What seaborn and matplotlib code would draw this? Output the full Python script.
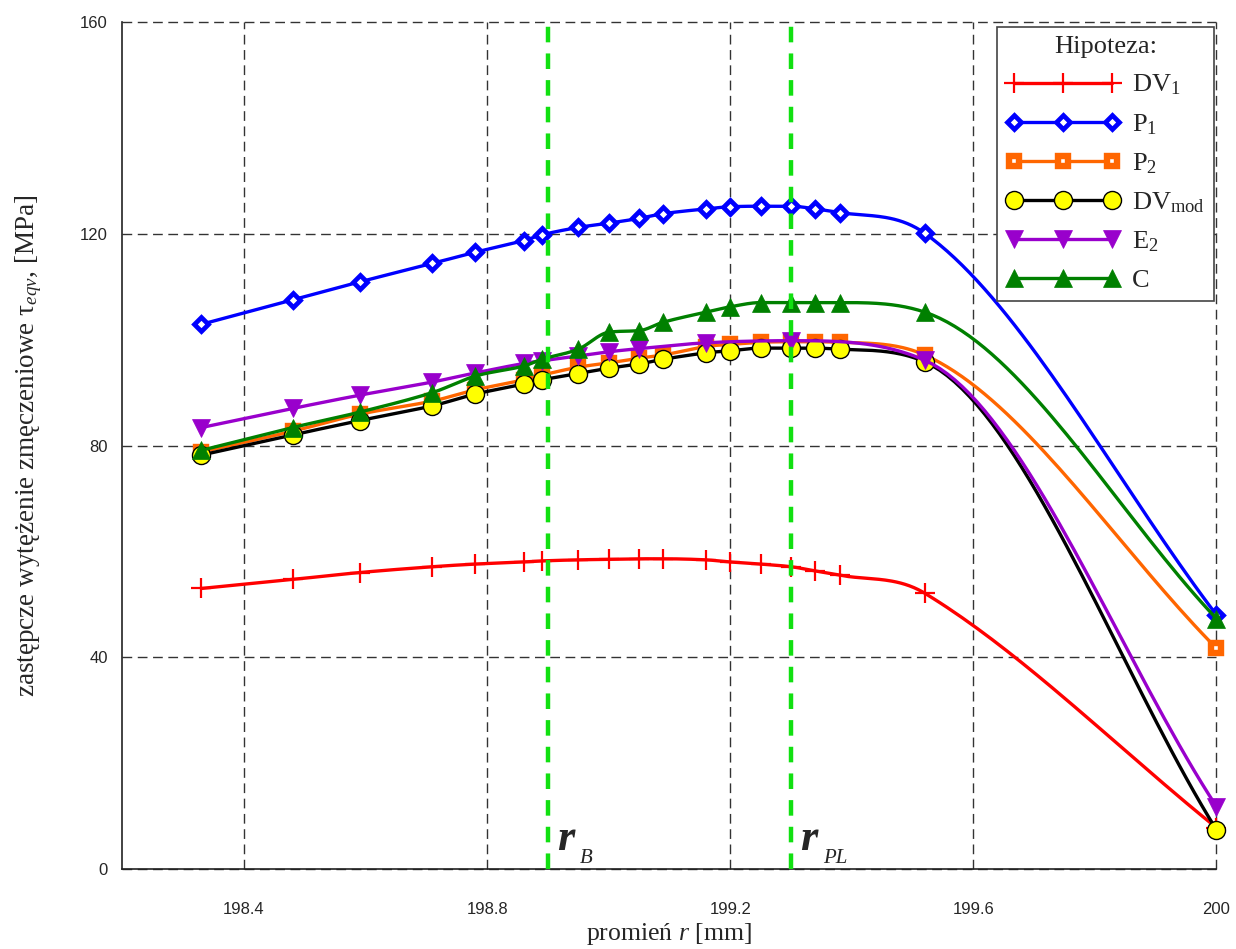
import numpy as np
import matplotlib
matplotlib.use("Agg")
import matplotlib.pyplot as plt
import seaborn as sns
from matplotlib.lines import Line2D
from matplotlib.ticker import FixedLocator, MultipleLocator, FuncFormatter

# radius positions [mm]
r_mm = [198.33, 198.48, 198.59, 198.71, 198.78, 198.86, 198.89, 198.95, 199.00,
        199.05, 199.09, 199.16, 199.20, 199.25, 199.30, 199.34, 199.38, 199.52, 200.0]
r_e2 = [198.33, 198.48, 198.59, 198.71, 198.78, 198.86, 198.89, 198.95, 199.00,
        199.05, 199.16, 199.30, 199.52, 200.0]

# equivalent fatigue stress [MPa] for each hypothesis
dv1 = [53.0, 54.7, 56.0, 57.1, 57.6, 58.0, 58.2, 58.4, 58.5, 58.6, 58.6, 58.4,
       58.0, 57.6, 57.1, 56.3, 55.5, 52.1, 7.8]
p1 = [102.9, 107.5, 110.9, 114.4, 116.5, 118.7, 119.8, 121.2, 122.0, 122.9, 123.8,
      124.7, 125.1, 125.2, 125.2, 124.7, 124.0, 120.1, 48.0]
p2 = [78.8, 82.7, 85.9, 88.4, 90.5, 92.4, 93.3, 94.8, 95.6, 96.5, 97.1, 98.7,
      99.1, 99.5, 99.6, 99.6, 99.5, 97.1, 41.7]
dv_mod = [78.2, 82.0, 84.7, 87.5, 89.7, 91.6, 92.4, 93.6, 94.6, 95.4, 96.3, 97.5,
          97.9, 98.4, 98.4, 98.4, 98.2, 95.8, 7.4]
e2 = [83.4, 87.0, 89.5, 92.0, 93.7, 95.5, 96.0, 96.9, 97.7, 98.3, 99.4, 99.8, 96.1, 11.8]
c_hyp = [79.1, 83.4, 86.3, 90.0, 93.1, 95.0, 96.3, 98.2, 101.4, 101.7, 103.3, 105.2,
         106.2, 107.0, 107.0, 107.0, 107.0, 105.2, 47.3]

legend_labels = ["DV$_1$", "P$_1$", "P$_2$", "DV$_{\\mathrm{mod}}$", "E$_2$", "C"]
x_ticks = [198.4, 198.8, 199.2, 199.6, 200.0]
x_minor = [198.2, 198.6, 199.0, 199.4, 199.8]
R_B, R_PL = 198.9, 199.3

sns.set_theme(style="white")
plt.rcParams.update({
    "font.family": ["Liberation Serif", "DejaVu Serif"],
    "mathtext.fontset": "custom",
    "mathtext.rm": "Liberation Serif",
    "mathtext.it": "Liberation Serif:italic",
    "mathtext.bf": "Liberation Serif:bold",
})

fig = plt.figure(figsize=(12.36, 9.49), dpi=100)
ax = fig.add_axes([0.0991, 0.0843, 0.8851, 0.8925])
ax.set_xlim(198.2, 200.0)
ax.set_ylim(0, 160)


def smooth_curve(xs, ys, n=40):
    """Cardinal (Catmull-Rom) cubic with Fritsch-Carlson limiting to avoid overshoot."""
    x = np.asarray(xs, float)
    y = np.asarray(ys, float)
    h = np.diff(x)
    d = np.diff(y) / h
    m = np.zeros_like(y)
    m[0], m[-1] = d[0], d[-1]
    for k in range(1, len(x) - 1):
        if d[k - 1] * d[k] > 0:
            m[k] = (y[k + 1] - y[k - 1]) / (x[k + 1] - x[k - 1])
    for k in range(len(d)):
        if d[k] == 0:
            m[k] = m[k + 1] = 0.0
            continue
        a, b = m[k] / d[k], m[k + 1] / d[k]
        s = a * a + b * b
        if s > 9:
            tau = 3.0 / np.sqrt(s)
            m[k], m[k + 1] = tau * a * d[k], tau * b * d[k]
    px, py = [x[:1]], [y[:1]]
    t = np.linspace(0, 1, n)[1:]
    h00 = 2 * t ** 3 - 3 * t ** 2 + 1
    h10 = t ** 3 - 2 * t ** 2 + t
    h01 = -2 * t ** 3 + 3 * t ** 2
    h11 = t ** 3 - t ** 2
    for k in range(len(x) - 1):
        px.append(x[k] + t * h[k])
        py.append(h00 * y[k] + h10 * h[k] * m[k] + h01 * y[k + 1] + h11 * h[k] * m[k + 1])
    return np.concatenate(px), np.concatenate(py)


series = [
    (r_mm, dv1, dict(color="#FF0000", marker="+", ms=15, mew=1.6, mfc="#FF0000", mec="#FF0000")),
    (r_mm, p1, dict(color="#0000FF", marker="D", ms=7, mew=3.4, mfc="white", mec="#0000FF")),
    (r_mm, p2, dict(color="#FF6600", marker="s", ms=7.8, mew=4.6, mfc="white", mec="#FF6600")),
    (r_mm, dv_mod, dict(color="#000000", marker="o", ms=13, mew=1.0, mfc="#FFFF00", mec="#000000")),
    (r_e2, e2, dict(color="#9900CC", marker="v", ms=13, mew=0.5, mfc="#9900CC", mec="#9900CC")),
    (r_mm, c_hyp, dict(color="#008000", marker="^", ms=13, mew=0.5, mfc="#008000", mec="#008000")),
]

handles = []
for k, (xs, ys, st) in enumerate(series):
    sx, sy = smooth_curve(xs, ys)
    sns.lineplot(x=sx, y=sy, ax=ax, color=st["color"], lw=2.4, sort=False,
                 estimator=None, legend=False, zorder=3 + k)
    ax.plot(xs, ys, ls="none", marker=st["marker"], ms=st["ms"], mew=st["mew"],
            mfc=st["mfc"], mec=st["mec"], zorder=3 + k, clip_on=False)
    handles.append(Line2D([], [], color=st["color"], lw=2.4, marker=st["marker"],
                          ms=st["ms"], mew=st["mew"], mfc=st["mfc"], mec=st["mec"]))

# characteristic radii
for rv in (R_B, R_PL):
    ax.axvline(rv, color="#11E011", lw=3.2, ls=(0, (3.5, 2.5)), zorder=10)
for rv, sub in ((R_B, "B"), (R_PL, "PL")):
    ax.annotate("r", xy=(rv, 0), xytext=(6.5, 14), textcoords="offset points",
                fontsize=32, fontweight="bold", fontstyle="italic",
                family="Liberation Serif", va="baseline", ha="left", zorder=11)
    ax.annotate(sub, xy=(rv, 0), xytext=(23, 4), textcoords="offset points",
                fontsize=15, fontstyle="italic", family="Liberation Serif",
                va="baseline", ha="left", zorder=11)

# axes, ticks and grid
ax.xaxis.set_major_locator(FixedLocator(x_ticks))
ax.xaxis.set_minor_locator(FixedLocator(x_minor))
ax.yaxis.set_major_locator(MultipleLocator(40))
ax.yaxis.set_minor_locator(MultipleLocator(20))
ax.xaxis.set_major_formatter(FuncFormatter(lambda v, _: f"{v:g}"))
ax.grid(which="major", color="#333333", lw=1.0, ls=(0, (7, 4)))
for gl in ax.get_xgridlines() + ax.get_ygridlines():
    gl.set_clip_on(False)
ax.tick_params(which="major", direction="inout", length=30, width=1.0, color="#222222",
               labelsize=12, labelfontfamily="Liberation Sans")
ax.tick_params(which="minor", direction="inout", length=16, width=1.0, color="#222222")
ax.tick_params(axis="x", which="major", pad=8.5)
ax.tick_params(axis="y", which="major", length=20, pad=0.5)
ax.tick_params(axis="y", which="minor", length=14)
for side in ("top", "right"):
    ax.spines[side].set_visible(False)
for side in ("left", "bottom"):
    ax.spines[side].set_color("#222222")
    ax.spines[side].set_linewidth(1.2)

ax.set_xlabel("promień $r$ [mm]", fontsize=18.5, labelpad=3)
ax.set_ylabel("zastępcze wytężenie zmęczeniowe τ$_{eqv}$, [MPa]", fontsize=19.5, labelpad=26)

leg = ax.legend(handles, legend_labels, title="Hipoteza:", loc="upper right",
                bbox_to_anchor=(0.9975, 0.994), borderaxespad=0, numpoints=3,
                handlelength=4.3, fontsize=19, title_fontsize=19, frameon=True,
                fancybox=False, framealpha=1, edgecolor="#444444",
                labelspacing=0.55, handletextpad=0.45, borderpad=0.35)
leg.get_frame().set_linewidth(1.2)
leg.set_zorder(20)

fig.savefig("out.png", dpi=100)
